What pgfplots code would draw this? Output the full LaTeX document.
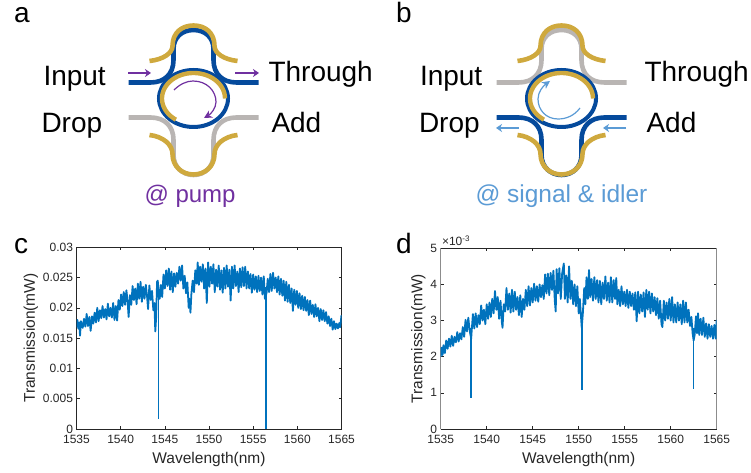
\documentclass[border=0pt]{standalone}
\usepackage{pgfplots}
\pgfplotsset{compat=1.18}
\usepackage{fontspec}
\setmainfont{Liberation Sans}
\usetikzlibrary{arrows.meta}
\definecolor{wgblue}{HTML}{054A9C}
\definecolor{wggold}{HTML}{CFA93E}
\definecolor{wggrey}{HTML}{B9B5B3}
\definecolor{purp}{HTML}{7030A0}
\definecolor{lblue}{HTML}{5B9BD5}
\definecolor{mline}{HTML}{0072BD}
\definecolor{axc}{HTML}{262626}
\newcommand{\topbus}[1]{(#1-65,82.5) -- (#1-43,82.5) .. controls (#1-29,82.5) and (#1-20,74) .. (#1-20,60) -- (#1-20,49) .. controls (#1-20,37) and (#1-11,30) .. (#1,30) .. controls (#1+11,30) and (#1+20,37) .. (#1+20,49) -- (#1+20,60) .. controls (#1+20,74) and (#1+29,82.5) .. (#1+43,82.5) -- (#1+65,82.5)}
\newcommand{\botbus}[1]{(#1-65,117.5) -- (#1-43,117.5) .. controls (#1-29,117.5) and (#1-20,126) .. (#1-20,140) -- (#1-20,155) .. controls (#1-20,167) and (#1-11,175) .. (#1,175) .. controls (#1+11,175) and (#1+20,167) .. (#1+20,155) -- (#1+20,140) .. controls (#1+20,126) and (#1+29,117.5) .. (#1+43,117.5) -- (#1+65,117.5)}
\newcommand{\topgold}[1]{(#1-44,61) .. controls (#1-30,59.5) and (#1-21,53) .. (#1-21,46) .. controls (#1-21,33) and (#1-12,25.5) .. (#1,25.5) .. controls (#1+12,25.5) and (#1+21,33) .. (#1+21,46) .. controls (#1+21,53) and (#1+30,59.5) .. (#1+44,61)}
\newcommand{\botgold}[1]{(#1-44,135) .. controls (#1-30,136.5) and (#1-21,145) .. (#1-21,154) .. controls (#1-21,166) and (#1-12,174.5) .. (#1,174.5) .. controls (#1+12,174.5) and (#1+21,166) .. (#1+21,154) .. controls (#1+21,145) and (#1+30,136.5) .. (#1+44,135)}
\newcommand{\ringpair}[1]{%
  \draw[wgblue,line width=4pt] (#1,98.5) ellipse [x radius=34.5,y radius=28.5];
  \draw[wggold,line width=4.4pt] plot[domain=124:360,samples=60,smooth] ({#1+31.5*cos(\x)},{98.5+25.5*sin(\x)});
}
\begin{document}
\begin{tikzpicture}[x=1pt,y=1pt]
\useasboundingbox (0,0) rectangle (751,473);
\begin{scope}[yshift=473pt,y=-1pt,x=1pt,font=\fontsize{28}{30}\selectfont,inner sep=0pt,outer sep=0pt]
 % panel a
 \draw[wggrey,line width=4.6pt] \botbus{193.5};
 \draw[wgblue,line width=4.6pt] \topbus{193.5};
 \draw[wggold,line width=4.6pt] \topgold{193.5};
 \draw[wggold,line width=4.6pt] \botgold{193.5};
 \ringpair{193.5}
 \draw[purp,line width=1.2pt,-{Stealth[length=8pt,width=8pt]}] (174,90) .. controls (180,84) and (187,81) .. (193,81) .. controls (207,81) and (216,91) .. (216,102) .. controls (216,108) and (211,114) .. (204,118);
 \draw[purp,line width=1.2pt,-{Stealth[length=6pt,width=8pt]}] (128,73) -- (151,73);
 \draw[purp,line width=1.2pt,-{Stealth[length=6pt,width=8pt]}] (235,73) -- (259,73);
 \node[anchor=base west] at (43.5,86) {Input};
 \node[anchor=base west] at (268.5,81.5) {Through};
 \node[anchor=base west] at (41.5,133) {Drop};
 \node[anchor=base west] at (271.5,133) {Add};
 \node[anchor=base west,text=purp,font=\fontsize{24}{28}\selectfont] at (144.5,203) {@ pump};
 \node[anchor=base west] at (14,23) {a};
 % panel b
 \draw[wggrey,line width=4.6pt] \topbus{561.5};
 \draw[wgblue,line width=4.6pt] \botbus{561.5};
 \draw[wggold,line width=4.6pt] \topgold{561.5};
 \draw[wggold,line width=4.6pt] \botgold{561.5};
 \ringpair{561.5}
 \draw[lblue,line width=1.2pt,-{Stealth[length=8pt,width=8pt]}] (580,108) .. controls (574,116) and (566,119) .. (558,119) .. controls (546,119) and (538,110) .. (538,99) .. controls (538,92) and (543,86) .. (550,81);
 \draw[lblue,line width=1.2pt,-{Stealth[length=6pt,width=8pt]}] (519,128) -- (496,128);
 \draw[lblue,line width=1.2pt,-{Stealth[length=6pt,width=8pt]}] (626,128) -- (603,128);
 \node[anchor=base west] at (420,86) {Input};
 \node[anchor=base west] at (644.5,81.5) {Through};
 \node[anchor=base west] at (419,133) {Drop};
 \node[anchor=base west] at (646.5,133) {Add};
 \node[anchor=base west,text=lblue,font=\fontsize{24.5}{28}\selectfont] at (475.5,203) {@ signal \& idler};
 \node[anchor=base west] at (396,23) {b};
 \node[anchor=base west] at (14,254) {c};
 \node[anchor=base west] at (396,254) {d};
 \node[anchor=base west,text=axc,font=\fontsize{12}{14}\selectfont] at (442,245.5) {×10\textsuperscript{-3}};
\end{scope}
\pgfplotsset{spec/.style={
  scale only axis, anchor=south west, xmin=1535, xmax=1565, ymin=0,
  scaled y ticks=false,
  xtick={1535,1540,1545,1550,1555,1560,1565},
  xticklabels={1535,1540,1545,1550,1555,1560,1565},
  tick align=inside, major tick length=3pt, tick style={axc,line width=0.6pt},
  axis line style={axc,line width=0.7pt},
  tick label style={font=\fontsize{12}{14}\selectfont,text=axc},
  label style={font=\fontsize{15.5}{18}\selectfont,text=axc},
  xlabel={Wavelength(nm)}, ylabel={Transmission(mW)},
  xticklabel style={yshift=-3pt},
  xlabel style={yshift=-1pt},
  clip=true,
}}
\begin{axis}[spec, at={(76.5pt,44pt)}, width=265pt, height=181.7pt, ymax=0.03,
  ytick={0,0.005,0.01,0.015,0.02,0.025,0.03},
  yticklabels={0,0.005,0.01,0.015,0.02,0.025,0.03},
  ylabel style={yshift=-2pt}]
\addplot[mline,line width=1.8pt,line join=round] coordinates {
(1535.0,.0168)(1535.1,.0180)(1535.2,.0166)(1535.3,.0176)(1535.4,.0154)(1535.5,.0178)(1535.7,.0167)(1535.85,.0182)(1536.0,.0169)(1536.15,.0190)(1536.3,.0170)(1536.45,.0185)(1536.6,.0162)(1536.75,.0186)(1536.9,.0174)(1537.05,.0192)(1537.2,.0176)(1537.35,.0200)(1537.5,.0178)(1537.65,.0196)(1537.8,.0183)(1537.95,.0203)(1538.1,.0184)(1538.25,.0198)(1538.4,.0181)(1538.55,.0207)(1538.7,.0186)(1538.85,.0200)(1539.0,.0184)(1539.15,.0208)(1539.3,.0180)(1539.45,.0203)(1539.6,.0179)(1539.75,.0213)(1539.9,.0197)(1540.05,.0222)(1540.2,.0203)(1540.35,.0226)(1540.5,.0205)(1540.65,.0229)(1540.8,.0208)(1540.9,.0185)(1541.05,.0221)(1541.2,.0205)(1541.35,.0236)(1541.5,.0213)(1541.65,.0232)(1541.8,.0206)(1541.95,.0240)(1542.1,.0215)(1542.25,.0243)(1542.4,.0210)(1542.55,.0235)(1542.7,.0215)(1542.85,.0238)(1543.0,.0217)(1543.1,.0198)(1543.25,.0237)(1543.4,.0213)(1543.55,.0228)(1543.7,.0196)(1543.82,.0208)(1543.92,.0161)(1544.02,.0185)(1544.12,.0243)(1544.2,.0245)(1544.34,.0215)(1544.42,.0215)(1544.55,.0238)(1544.7,.0218)(1544.85,.0255)(1545.0,.0232)(1545.15,.0262)(1545.3,.0236)(1545.45,.0265)(1545.6,.0230)(1545.75,.0260)(1545.9,.0226)(1546.05,.0257)(1546.2,.0235)(1546.35,.0258)(1546.5,.0240)(1546.65,.0268)(1546.8,.0245)(1546.95,.0270)(1547.1,.0232)(1547.25,.0253)(1547.4,.0224)(1547.55,.0242)(1547.7,.0200)(1547.8,.0215)(1547.9,.0192)(1548.0,.0222)(1548.15,.0245)(1548.3,.0226)(1548.45,.0262)(1548.6,.0240)(1548.72,.0275)(1548.85,.0238)(1549.0,.0268)(1549.15,.0243)(1549.3,.0272)(1549.45,.0232)(1549.6,.0265)(1549.75,.0208)(1549.9,.0275)(1550.05,.0235)(1550.2,.0268)(1550.35,.0240)(1550.5,.0272)(1550.65,.0226)(1550.8,.0263)(1550.95,.0235)(1551.1,.0270)(1551.25,.0230)(1551.4,.0262)(1551.55,.0225)(1551.7,.0266)(1551.85,.0232)(1552.0,.0270)(1552.15,.0235)(1552.3,.0263)(1552.45,.0212)(1552.6,.0268)(1552.75,.0232)(1552.9,.0270)(1553.05,.0236)(1553.2,.0260)(1553.35,.0226)(1553.5,.0265)(1553.65,.0234)(1553.8,.0267)(1553.95,.0236)(1554.1,.0268)(1554.25,.0232)(1554.4,.0260)(1554.55,.0232)(1554.7,.0256)(1554.85,.0225)(1555.0,.0255)(1555.15,.0230)(1555.3,.0252)(1555.45,.0226)(1555.6,.0253)(1555.75,.0228)(1555.9,.0250)(1556.05,.0222)(1556.2,.0252)(1556.33,.0215)(1556.52,.0225)(1556.65,.0248)(1556.8,.0226)(1556.95,.0256)(1557.1,.0228)(1557.25,.0258)(1557.4,.0232)(1557.55,.0250)(1557.7,.0226)(1557.85,.0252)(1558.0,.0222)(1558.15,.0248)(1558.3,.0220)(1558.45,.0245)(1558.6,.0212)(1558.75,.0243)(1558.9,.0210)(1559.05,.0238)(1559.2,.0208)(1559.35,.0232)(1559.5,.0195)(1559.65,.0230)(1559.8,.0205)(1559.95,.0228)(1560.1,.0200)(1560.25,.0224)(1560.4,.0198)(1560.55,.0220)(1560.7,.0196)(1560.85,.0218)(1561.0,.0195)(1561.15,.0213)(1561.3,.0188)(1561.45,.0212)(1561.6,.0190)(1561.75,.0205)(1561.9,.0185)(1562.05,.0206)(1562.2,.0186)(1562.35,.0200)(1562.5,.0178)(1562.65,.0198)(1562.8,.0180)(1562.95,.0196)(1563.1,.0178)(1563.25,.0193)(1563.4,.0174)(1563.55,.0186)(1563.7,.0170)(1563.85,.0182)(1564.0,.0164)(1564.15,.0178)(1564.3,.0165)(1564.45,.0174)(1564.6,.0166)(1564.75,.0175)(1564.85,.0168)(1565.0,.0188)};
\addplot[mline,line width=1.6pt] coordinates {(1544.3,.0235)(1544.3,.0017)};
\addplot[mline,line width=1.6pt] coordinates {(1556.42,.0235)(1556.42,.0000)};
\end{axis}
\begin{axis}[spec, at={(440.7pt,44pt)}, width=276pt, height=180.7pt, ymax=5,
  ytick={0,1,2,3,4,5}, yticklabels={0,1,2,3,4,5},
  separate axis lines, y axis line style={color=black!45},
  ylabel style={yshift=-2pt}]
\addplot[mline,line width=1.8pt,line join=round] coordinates {
(1535.0,2.00)(1535.1,2.25)(1535.2,2.05)(1535.3,2.32)(1535.45,2.10)(1535.6,2.45)(1535.75,2.22)(1535.9,2.50)(1536.05,2.28)(1536.2,2.58)(1536.35,2.30)(1536.5,2.55)(1536.65,2.40)(1536.8,2.68)(1536.95,2.42)(1537.1,2.65)(1537.25,2.48)(1537.4,2.82)(1537.55,2.55)(1537.7,3.02)(1537.85,2.70)(1538.0,3.08)(1538.15,2.72)(1538.31,2.50)(1538.5,3.18)(1538.65,2.78)(1538.8,3.20)(1538.95,2.82)(1539.1,3.15)(1539.25,2.90)(1539.4,3.42)(1539.55,3.00)(1539.7,3.30)(1539.85,2.90)(1540.0,3.45)(1540.15,3.05)(1540.3,3.50)(1540.45,3.10)(1540.6,3.60)(1540.75,3.20)(1540.9,3.82)(1541.05,3.30)(1541.2,3.65)(1541.35,3.05)(1541.5,3.55)(1541.65,2.95)(1541.72,2.80)(1541.85,3.45)(1542.0,3.25)(1542.15,3.90)(1542.3,3.30)(1542.45,3.75)(1542.6,3.22)(1542.75,3.85)(1542.9,3.25)(1543.05,3.80)(1543.2,3.30)(1543.35,3.65)(1543.5,3.15)(1543.65,3.70)(1543.8,3.10)(1543.95,3.60)(1544.1,3.30)(1544.25,3.85)(1544.4,3.40)(1544.55,3.95)(1544.7,3.42)(1544.85,3.90)(1545.0,3.50)(1545.15,4.02)(1545.3,3.55)(1545.45,3.95)(1545.6,3.52)(1545.75,4.00)(1545.9,3.65)(1546.05,3.98)(1546.2,3.60)(1546.35,4.28)(1546.5,3.75)(1546.65,4.30)(1546.8,3.70)(1546.95,4.32)(1547.1,3.85)(1547.25,4.38)(1547.4,3.55)(1547.5,3.25)(1547.6,4.42)(1547.75,3.75)(1547.9,4.45)(1548.05,3.60)(1548.2,4.30)(1548.38,4.58)(1548.5,3.60)(1548.65,4.25)(1548.8,3.50)(1548.95,4.50)(1549.1,3.60)(1549.25,4.10)(1549.4,3.45)(1549.55,4.00)(1549.7,3.40)(1549.85,3.95)(1550.0,3.20)(1550.12,3.60)(1550.33,2.80)(1550.45,3.20)(1550.6,3.90)(1550.72,3.45)(1550.85,4.20)(1551.0,3.60)(1551.12,4.40)(1551.25,3.65)(1551.4,4.15)(1551.55,3.55)(1551.7,4.20)(1551.85,3.60)(1552.0,4.12)(1552.15,3.50)(1552.3,4.10)(1552.45,3.45)(1552.6,4.05)(1552.75,3.60)(1552.9,4.22)(1553.05,3.55)(1553.2,4.05)(1553.35,3.50)(1553.5,4.20)(1553.65,3.50)(1553.8,4.12)(1553.95,3.60)(1554.08,4.18)(1554.2,3.45)(1554.35,3.85)(1554.5,3.40)(1554.65,3.95)(1554.8,3.45)(1554.95,3.80)(1555.1,3.40)(1555.25,3.85)(1555.4,3.35)(1555.55,3.80)(1555.7,3.40)(1555.85,3.75)(1556.0,3.30)(1556.15,3.78)(1556.3,2.98)(1556.45,3.80)(1556.6,3.20)(1556.75,3.72)(1556.9,3.25)(1557.05,3.78)(1557.2,3.10)(1557.35,3.85)(1557.5,3.30)(1557.65,3.80)(1557.8,3.20)(1557.95,3.75)(1558.1,3.25)(1558.25,3.65)(1558.4,3.15)(1558.55,3.62)(1558.7,3.05)(1558.85,3.55)(1559.0,2.90)(1559.1,2.82)(1559.25,3.55)(1559.4,3.00)(1559.55,3.50)(1559.7,3.05)(1559.85,3.60)(1560.0,3.00)(1560.15,3.65)(1560.3,2.95)(1560.45,3.45)(1560.6,2.95)(1560.75,3.50)(1560.9,3.00)(1561.05,3.45)(1561.2,2.90)(1561.35,3.55)(1561.5,2.95)(1561.65,3.50)(1561.8,2.95)(1561.95,3.30)(1562.1,2.85)(1562.25,3.10)(1562.38,2.65)(1562.49,2.45)(1562.6,2.60)(1562.75,3.12)(1562.85,2.65)(1562.97,3.20)(1563.1,2.60)(1563.25,3.05)(1563.4,2.60)(1563.55,3.08)(1563.7,2.55)(1563.85,2.92)(1564.0,2.50)(1564.15,2.90)(1564.3,2.55)(1564.45,2.85)(1564.6,2.50)(1564.75,2.88)(1564.9,2.50)(1565.0,3.02)};
\addplot[mline,line width=1.6pt] coordinates {(1538.31,2.8)(1538.31,0.87)};
\addplot[mline,line width=1.6pt] coordinates {(1550.33,3.1)(1550.33,1.07)};
\addplot[mline,line width=1.6pt] coordinates {(1562.49,2.8)(1562.49,1.10)};
\end{axis}
\end{tikzpicture}
\end{document}
